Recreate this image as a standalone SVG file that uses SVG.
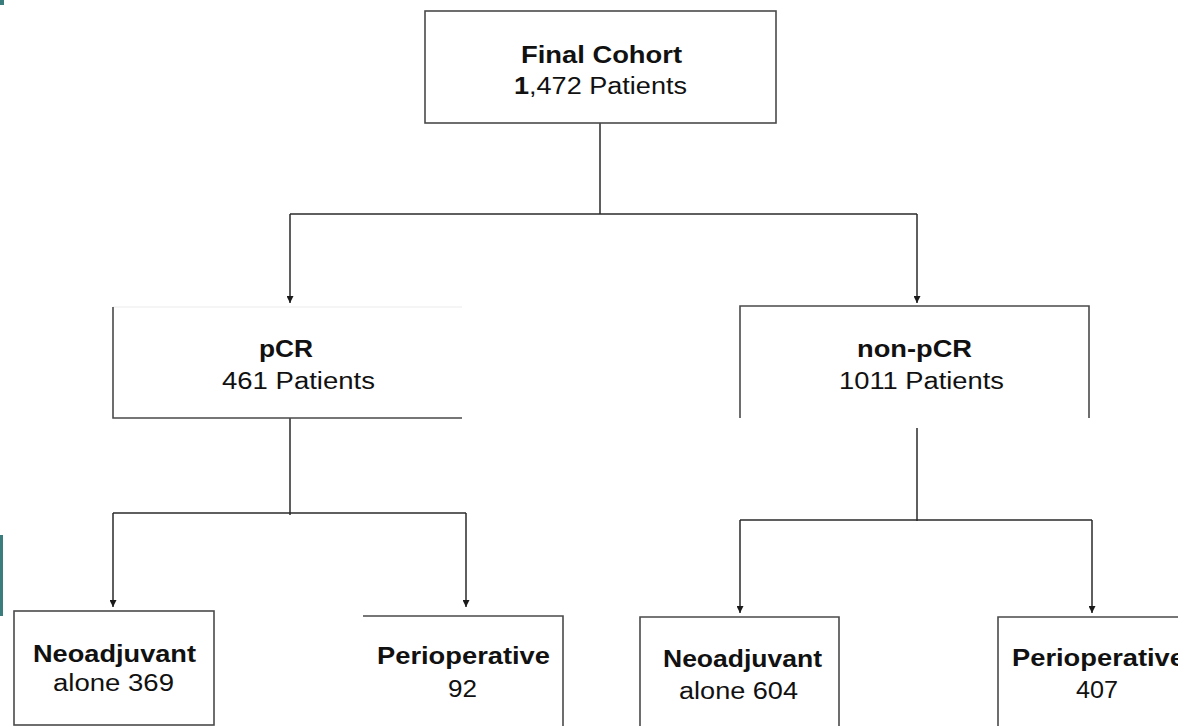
<svg xmlns="http://www.w3.org/2000/svg" width="1178" height="726" viewBox="0 0 1178 726">
<style>
.box{fill:none;stroke:#4a4a4a;stroke-width:1.6}
.faint{fill:none;stroke:#ececec;stroke-width:1.2}
.con{fill:none;stroke:#2a2a2a;stroke-width:1.5}
.t{font-family:"Liberation Sans",Arial,sans-serif;font-size:23px;fill:#111}
.b{font-weight:bold}
.teal{fill:#3b7c7d}
</style>
<defs>
<marker id="ah" markerUnits="userSpaceOnUse" markerWidth="7" markerHeight="7" refX="7" refY="3.5" orient="auto">
<path d="M0,0 L7,3.5 L0,7 z" fill="#1a1a1a"/>
</marker>
</defs>
<rect width="1178" height="726" fill="#ffffff"/>
<rect class="teal" x="0" y="0" width="4" height="5"/>
<rect class="teal" x="0" y="535" width="3" height="81"/>

<g id="connectors">
<path class="con" d="M600,123 V214"/>
<path class="con" d="M290,214 H917"/>
<path class="con" d="M290,214 V303" marker-end="url(#ah)"/>
<path class="con" d="M917,214 V303" marker-end="url(#ah)"/>
<path class="con" d="M290,418 V515"/>
<path class="con" d="M113,513 H466"/>
<path class="con" d="M113,513 V607" marker-end="url(#ah)"/>
<path class="con" d="M466,513 V607" marker-end="url(#ah)"/>
<path class="con" d="M917,428 V521"/>
<path class="con" d="M740,520 H1092"/>
<path class="con" d="M740,520 V613" marker-end="url(#ah)"/>
<path class="con" d="M1092,520 V613" marker-end="url(#ah)"/>
</g>

<g id="final-cohort">
<rect class="box" x="425" y="11" width="351" height="112"/>
<text class="t b" x="521" y="63" textLength="161" lengthAdjust="spacingAndGlyphs">Final Cohort</text>
<text class="t" x="514" y="94" textLength="173" lengthAdjust="spacingAndGlyphs"><tspan class="b">1</tspan>,472 Patients</text>
</g>

<g id="pcr">
<path class="faint" d="M113,307 H462"/>
<path class="box" d="M113,307 V418 H462"/>
<text class="t b" x="259" y="357" textLength="54" lengthAdjust="spacingAndGlyphs">pCR</text>
<text class="t" x="222" y="389" textLength="153" lengthAdjust="spacingAndGlyphs">461 Patients</text>
</g>

<g id="non-pcr">
<path class="box" d="M740,418 V306 H1089 V418"/>
<text class="t b" x="857" y="357" textLength="115" lengthAdjust="spacingAndGlyphs">non-pCR</text>
<text class="t" x="839" y="389" textLength="165" lengthAdjust="spacingAndGlyphs">1011 Patients</text>
</g>

<g id="pcr-neoadjuvant">
<rect class="box" x="14" y="611" width="200" height="114"/>
<text class="t b" x="33" y="662" textLength="163" lengthAdjust="spacingAndGlyphs">Neoadjuvant</text>
<text class="t" x="53" y="691" textLength="121" lengthAdjust="spacingAndGlyphs">alone 369</text>
</g>

<g id="pcr-perioperative">
<path class="box" d="M363,616 H563 V727"/>
<text class="t b" x="377" y="664" textLength="173" lengthAdjust="spacingAndGlyphs">Perioperative</text>
<text class="t" x="448" y="697" textLength="29" lengthAdjust="spacingAndGlyphs">92</text>
</g>

<g id="nonpcr-neoadjuvant">
<path class="box" d="M640,727 V617 H839 V727"/>
<text class="t b" x="663" y="667" textLength="159" lengthAdjust="spacingAndGlyphs">Neoadjuvant</text>
<text class="t" x="679" y="699" textLength="119" lengthAdjust="spacingAndGlyphs">alone 604</text>
</g>

<g id="nonpcr-perioperative">
<path class="box" d="M998,727 V617 H1180"/>
<text class="t b" x="1012" y="666" textLength="173" lengthAdjust="spacingAndGlyphs">Perioperative</text>
<text class="t" x="1076" y="698" textLength="42" lengthAdjust="spacingAndGlyphs">407</text>
</g>
</svg>
